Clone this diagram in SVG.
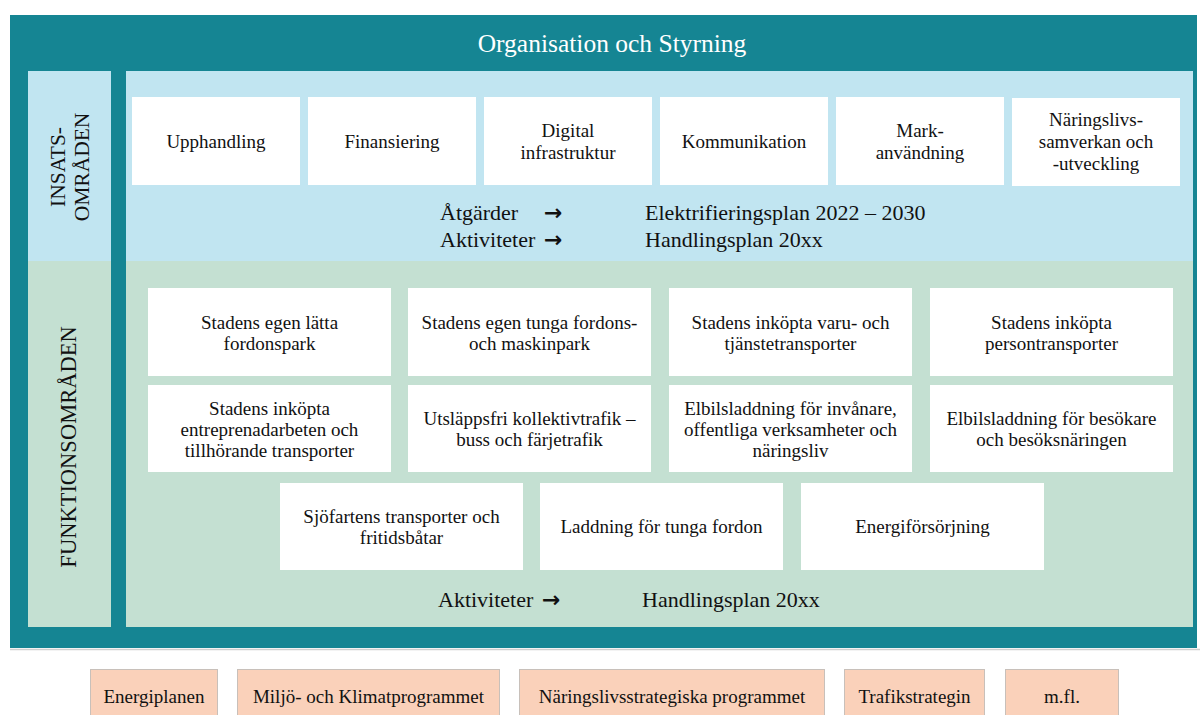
<svg xmlns="http://www.w3.org/2000/svg" width="1200" height="715" viewBox="0 0 1200 715">
<style>
text{font-family:"Liberation Serif","Times New Roman",serif;fill:#111;}
.box{fill:#fff;}
.t{font-size:19px;text-anchor:middle;}
.big{font-size:22px;}
.side{font-size:21.5px;text-anchor:middle;}
.peach{fill:#FAD1BA;stroke:#C8C0BA;stroke-width:1;}
text.arr{font-family:"DejaVu Sans",sans-serif;font-size:22px;font-weight:bold;}
</style>
<rect x="0" y="0" width="1200" height="715" fill="#fff"/>
<g id="frame">
<rect x="10" y="15" width="1187" height="633" fill="#158593"/>
<line x1="10" y1="649.5" x2="1200" y2="649.5" stroke="#D0D0D0" stroke-width="1.5"/>
<text x="612" y="52" style="font-size:25.5px;fill:#fff;text-anchor:middle">Organisation och Styrning</text>
</g>
<g id="insats-label">
<rect x="28" y="71" width="83" height="190" fill="#C1E5F1"/>
<text class="side" transform="translate(68,167) rotate(-90)"><tspan x="0" y="-3">INSATS-</tspan><tspan x="0" y="21">OMRÅDEN</tspan></text>
</g>
<g id="funktion-label">
<rect x="28" y="261" width="83" height="366" fill="#C4E0D2"/>
<text class="side" transform="translate(68,447) rotate(-90)" y="8" style="font-size:22.5px">FUNKTIONSOMRÅDEN</text>
</g>
<g id="insats-area">
<rect x="126" y="71" width="1067" height="190" fill="#C1E5F1"/>
<text class="big" x="440" y="220">Åtgärder</text>
<text class="arr" x="544" y="220">→</text>
<text class="big" x="645" y="220">Elektrifieringsplan 2022 – 2030</text>
<text class="big" x="440" y="247">Aktiviteter</text>
<text class="arr" x="544" y="247">→</text>
<text class="big" x="645" y="247">Handlingsplan 20xx</text>
</g>
<g id="upphandling"><rect class="box" x="132" y="97" width="168" height="88"/><text class="t" x="216" y="148">Upphandling</text></g>
<g id="finansiering"><rect class="box" x="308" y="97" width="168" height="88"/><text class="t" x="392" y="148">Finansiering</text></g>
<g id="digital"><rect class="box" x="484" y="97" width="168" height="88"/><text class="t" x="568" y="137">Digital</text><text class="t" x="568" y="159">infrastruktur</text></g>
<g id="kommunikation"><rect class="box" x="660" y="97" width="168" height="88"/><text class="t" x="744" y="148">Kommunikation</text></g>
<g id="markanvandning"><rect class="box" x="836" y="97" width="168" height="88"/><text class="t" x="920" y="137">Mark-</text><text class="t" x="920" y="159">användning</text></g>
<g id="naringslivs"><rect class="box" x="1012" y="98" width="168" height="88"/><text class="t" x="1096" y="126">Näringslivs-</text><text class="t" x="1096" y="148">samverkan och</text><text class="t" x="1096" y="170">-utveckling</text></g>
<g id="funktion-area">
<rect x="126" y="261" width="1067" height="366" fill="#C4E0D2"/>
<text class="big" x="438" y="607">Aktiviteter</text>
<text class="arr" x="542" y="607">→</text>
<text class="big" x="642" y="607">Handlingsplan 20xx</text>
</g>
<g id="f1"><rect class="box" x="148" y="288" width="243" height="88"/><text class="t" x="269.5" y="329">Stadens egen lätta</text><text class="t" x="269.5" y="350">fordonspark</text></g>
<g id="f2"><rect class="box" x="408" y="288" width="243" height="88"/><text class="t" x="529.5" y="329">Stadens egen tunga fordons-</text><text class="t" x="529.5" y="350">och maskinpark</text></g>
<g id="f3"><rect class="box" x="669" y="288" width="243" height="88"/><text class="t" x="790.5" y="329">Stadens inköpta varu- och</text><text class="t" x="790.5" y="350">tjänstetransporter</text></g>
<g id="f4"><rect class="box" x="930" y="288" width="243" height="88"/><text class="t" x="1051.5" y="329">Stadens inköpta</text><text class="t" x="1051.5" y="350">persontransporter</text></g>
<g id="f5"><rect class="box" x="148" y="385" width="243" height="87"/><text class="t" x="269.5" y="415">Stadens inköpta</text><text class="t" x="269.5" y="436">entreprenadarbeten och</text><text class="t" x="269.5" y="457">tillhörande transporter</text></g>
<g id="f6"><rect class="box" x="408" y="385" width="243" height="87"/><text class="t" x="529.5" y="425">Utsläppsfri kollektivtrafik –</text><text class="t" x="529.5" y="446">buss och färjetrafik</text></g>
<g id="f7"><rect class="box" x="669" y="385" width="243" height="87"/><text class="t" x="790.5" y="415">Elbilsladdning för invånare,</text><text class="t" x="790.5" y="436">offentliga verksamheter och</text><text class="t" x="790.5" y="457">näringsliv</text></g>
<g id="f8"><rect class="box" x="930" y="385" width="243" height="87"/><text class="t" x="1051.5" y="425">Elbilsladdning för besökare</text><text class="t" x="1051.5" y="446">och besöksnäringen</text></g>
<g id="f9"><rect class="box" x="280" y="483" width="243" height="87"/><text class="t" x="401.5" y="523">Sjöfartens transporter och</text><text class="t" x="401.5" y="544">fritidsbåtar</text></g>
<g id="f10"><rect class="box" x="540" y="483" width="243" height="87"/><text class="t" x="661.5" y="533">Laddning för tunga fordon</text></g>
<g id="f11"><rect class="box" x="801" y="483" width="243" height="87"/><text class="t" x="922.5" y="533">Energiförsörjning</text></g>
<g id="energiplanen"><rect class="peach" x="90.5" y="669.5" width="127" height="50"/><text class="t" x="154" y="703">Energiplanen</text></g>
<g id="miljo"><rect class="peach" x="237.5" y="669.5" width="262" height="50"/><text class="t" x="368.5" y="703">Miljö- och Klimatprogrammet</text></g>
<g id="naringslivsstrategiska"><rect class="peach" x="519.5" y="669.5" width="305" height="50"/><text class="t" x="672" y="703">Näringslivsstrategiska programmet</text></g>
<g id="trafikstrategin"><rect class="peach" x="844.5" y="669.5" width="140" height="50"/><text class="t" x="914.5" y="703">Trafikstrategin</text></g>
<g id="mfl"><rect class="peach" x="1005.5" y="669.5" width="113" height="50"/><text class="t" x="1062" y="703">m.fl.</text></g>
<g id="connectors"></g>
</svg>
